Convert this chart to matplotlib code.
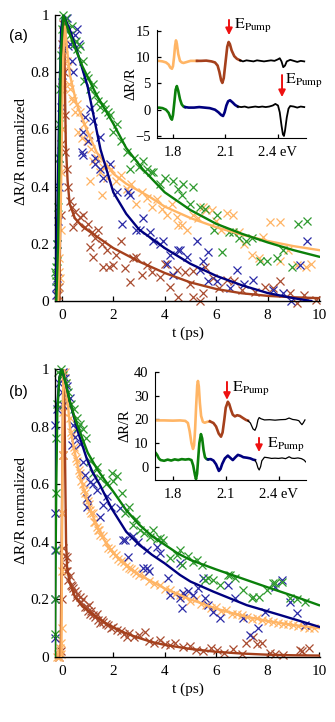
import numpy as np
import matplotlib
matplotlib.use('Agg')
import matplotlib.pyplot as plt

plt.rcParams['font.family'] = ['Liberation Serif', 'DejaVu Serif']
plt.rcParams['mathtext.fontset'] = 'stix'

GREEN, GREEN_PT = '#0b800b', '#2f9a2f'
NAVY, NAVY_PT = '#00007f', '#2a2aa6'
ORANGE, ORANGE_PT = '#ffb565', '#ffb464'
BROWN, BROWN_PT = '#a5401c', '#a94c30'

# ---------------- panel (a) : fits (t in ps, normalized dR/R) ----------------
a_green_fit = [(-0.22, 0.0), (-0.15, 0.2), (-0.1, 0.5), (-0.05, 0.85), (0.05, 1.0), (0.4, 0.91),
               (0.8, 0.82), (1.35, 0.72), (2.0, 0.62), (2.5, 0.535), (3.15, 0.46), (4.0, 0.38),
               (5.0, 0.318), (6.0, 0.27), (7.0, 0.235), (8.0, 0.205), (9.0, 0.178), (10.0, 0.155)]
a_navy_fit = [(-0.25, 0.0), (-0.18, 0.3), (-0.1, 0.7), (-0.03, 0.95), (0.05, 1.0), (0.3, 0.95),
              (0.6, 0.87), (1.0, 0.75), (1.5, 0.53), (2.0, 0.38), (2.5, 0.305), (3.0, 0.25),
              (4.0, 0.185), (5.0, 0.13), (6.0, 0.088), (7.0, 0.055), (8.0, 0.028), (9.0, 0.01), (9.7, 0.0)]
a_orange_fit = [(-0.15, 0.0), (-0.05, 0.3), (0.0, 0.6), (0.05, 0.85), (0.12, 0.96), (0.2, 0.88),
                (0.31, 0.79), (0.57, 0.69), (0.96, 0.6), (1.35, 0.52), (2.0, 0.445), (2.5, 0.41),
                (3.4, 0.365), (4.0, 0.33), (5.0, 0.29), (6.0, 0.258), (7.0, 0.232), (8.0, 0.21),
                (9.0, 0.192), (10.0, 0.178)]
a_brown_fit = [(-0.1, 0.0), (-0.05, 0.4), (0.0, 0.85), (0.05, 0.98), (0.1, 0.85), (0.15, 0.55),
               (0.22, 0.42), (0.3, 0.34), (0.5, 0.29), (0.8, 0.26), (1.2, 0.235), (2.0, 0.185),
               (3.0, 0.138), (4.0, 0.098), (5.0, 0.065), (6.0, 0.042), (7.0, 0.027), (8.0, 0.018),
               (9.0, 0.013), (10.0, 0.01)]

# ---------------- panel (a) : measured points ----------------
a_green_pts = [(-0.27, 0.10), (-0.25, 0.07), (-0.24, 0.12), (-0.22, 0.09), (-0.2, 0.14), (-0.18, 0.2),
               (-0.15, 0.33), (-0.12, 0.5), (-0.1, 0.62), (-0.08, 0.74), (-0.05, 0.86), (0.0, 0.95),
               (0.05, 1.0), (0.1, 0.97), (0.15, 0.99), (0.2, 0.95), (0.3, 0.93), (0.38, 0.96),
               (0.45, 0.9), (0.55, 0.91), (0.6, 0.88), (0.7, 0.89), (0.8, 0.84), (0.85, 0.77),
               (0.95, 0.79), (1.02, 0.78), (1.1, 0.74), (1.2, 0.76), (1.3, 0.72), (1.4, 0.7),
               (1.48, 0.68), (1.6, 0.69), (1.67, 0.67), (1.8, 0.66), (1.87, 0.65), (2.0, 0.59),
               (2.13, 0.62), (2.3, 0.56), (2.52, 0.52), (2.65, 0.46), (2.8, 0.5), (3.0, 0.47),
               (3.16, 0.49), (3.3, 0.46), (3.45, 0.45), (3.55, 0.45), (3.81, 0.41), (4.0, 0.43),
               (4.33, 0.42), (4.5, 0.39), (4.66, 0.37), (4.7, 0.41), (4.98, 0.34), (5.1, 0.40),
               (5.37, 0.33), (5.55, 0.32), (5.9, 0.25), (6.02, 0.30), (6.21, 0.17), (6.5, 0.24),
               (6.67, 0.24), (6.9, 0.22), (7.18, 0.21), (7.4, 0.22), (7.7, 0.14), (7.96, 0.14),
               (8.35, 0.15), (8.6, 0.18), (8.94, 0.12), (9.2, 0.27), (9.52, 0.28)]
a_navy_pts = [(-0.25, 0.02), (-0.22, 0.05), (-0.2, 0.08), (-0.18, 0.2), (-0.15, 0.28), (-0.12, 0.4),
              (-0.1, 0.5), (-0.05, 0.68), (0.0, 0.79), (0.05, 0.88), (0.1, 0.95), (0.18, 0.99),
              (0.25, 0.89), (0.3, 0.9), (0.38, 0.84), (0.44, 0.8), (0.5, 0.93), (0.57, 0.95),
              (0.65, 0.9), (0.77, 0.52), (0.83, 0.59), (0.83, 0.51), (0.9, 0.645), (1.0, 0.56),
              (1.09, 0.67), (1.22, 0.63), (1.28, 0.48), (1.3, 0.5), (1.48, 0.575), (1.48, 0.46),
              (1.6, 0.43), (1.87, 0.48), (2.13, 0.38), (2.32, 0.27), (2.58, 0.38), (2.65, 0.37),
              (2.9, 0.25), (3.04, 0.25), (3.16, 0.29), (3.42, 0.24), (3.55, 0.21), (3.8, 0.2),
              (3.94, 0.21), (4.07, 0.13), (4.2, 0.16), (4.33, 0.09), (4.53, 0.18), (4.6, 0.18),
              (4.87, 0.155), (5.24, 0.21), (5.37, 0.11), (5.5, 0.14), (5.7, 0.17), (5.7, 0.07),
              (6.05, 0.07), (6.54, 0.045), (6.8, 0.11), (7.1, 0.06), (7.44, 0.075), (8.2, 0.04),
              (8.61, 0.027), (8.9, 0.0), (9.26, 0.125), (9.52, 0.21)]
a_orange_pts = [(-0.2, 0.02), (-0.15, 0.05), (-0.12, 0.1), (-0.1, 0.15), (-0.08, 0.08), (-0.05, 0.25),
                (-0.02, 0.45), (0.0, 0.6), (0.03, 0.75), (0.08, 0.86), (0.12, 0.9), (0.18, 0.84),
                (0.25, 0.82), (0.28, 0.76), (0.31, 0.74), (0.38, 0.71), (0.44, 0.7), (0.5, 0.66),
                (0.57, 0.69), (0.64, 0.59), (0.7, 0.66), (0.77, 0.57), (0.85, 0.62), (0.96, 0.56),
                (1.05, 0.58), (1.09, 0.42), (1.15, 0.53), (1.22, 0.49), (1.35, 0.5), (1.48, 0.45),
                (1.54, 0.37), (1.6, 0.47), (1.75, 0.43), (1.9, 0.46), (2.1, 0.42), (2.3, 0.44),
                (2.52, 0.39), (2.7, 0.41), (2.9, 0.34), (3.1, 0.38), (3.29, 0.36), (3.5, 0.33),
                (3.68, 0.355), (3.9, 0.32), (4.1, 0.3), (4.3, 0.34), (4.46, 0.295), (4.53, 0.265),
                (4.66, 0.266), (4.85, 0.25), (5.1, 0.3), (5.3, 0.29), (5.5, 0.33), (5.6, 0.318),
                (5.82, 0.318), (6.0, 0.28), (6.2, 0.25), (6.41, 0.307), (6.67, 0.3), (6.9, 0.24),
                (7.1, 0.2), (7.38, 0.16), (7.65, 0.15), (7.83, 0.225), (8.1, 0.277), (8.48, 0.277),
                (8.5, 0.14), (8.8, 0.18), (9.13, 0.126), (9.5, 0.12), (9.7, 0.13)]
a_brown_pts = [(-0.15, 0.02), (-0.1, 0.05), (-0.05, 0.3), (-0.02, 0.55), (0.0, 0.75), (0.02, 0.9),
               (0.05, 0.97), (0.08, 0.8), (0.1, 0.65), (0.12, 0.52), (0.18, 0.46), (0.22, 0.4),
               (0.31, 0.35), (0.38, 0.33), (0.44, 0.26), (0.5, 0.31), (0.6, 0.28), (0.7, 0.295),
               (0.8, 0.3), (0.9, 0.26), (1.0, 0.27), (1.09, 0.19), (1.16, 0.24), (1.22, 0.155),
               (1.3, 0.22), (1.4, 0.25), (1.54, 0.2), (1.61, 0.12), (1.74, 0.18), (1.85, 0.12),
               (2.0, 0.125), (2.1, 0.16), (2.3, 0.21), (2.45, 0.114), (2.65, 0.067), (2.75, 0.15),
               (2.9, 0.155), (3.1, 0.09), (3.29, 0.126), (3.5, 0.1), (3.81, 0.085), (4.0, 0.13),
               (4.2, 0.05), (4.46, 0.108), (4.53, 0.015), (4.79, 0.102), (5.0, 0.06), (5.1, 0.105),
               (5.11, 0.015), (5.37, 0.0), (5.5, 0.027), (5.56, 0.12), (5.89, 0.079), (6.1, 0.045),
               (6.41, 0.073), (6.7, 0.07), (7.0, 0.04), (7.5, 0.03), (7.9, 0.05), (8.22, 0.044),
               (8.48, 0.07), (8.87, 0.027), (9.13, -0.008), (9.4, 0.02), (9.9, 0.003)]

# ---------------- panel (b) : fits ----------------
b_green_fit = [(-0.27, 0.0), (-0.25, 0.3), (-0.22, 0.6), (-0.18, 0.85), (-0.1, 0.97), (0.0, 1.0),
               (0.15, 0.95), (0.3, 0.89), (0.5, 0.83), (0.83, 0.75), (1.0, 0.71), (1.35, 0.655),
               (1.7, 0.61), (2.0, 0.574), (2.5, 0.51), (3.0, 0.46), (3.5, 0.42), (4.0, 0.39),
               (4.5, 0.36), (5.0, 0.337), (6.0, 0.304), (7.0, 0.273), (8.0, 0.242), (9.0, 0.212),
               (10.0, 0.18)]
b_navy_fit = [(-0.29, 0.0), (-0.27, 0.3), (-0.25, 0.6), (-0.2, 0.85), (-0.1, 0.97), (0.0, 1.0),
              (0.15, 0.95), (0.31, 0.886), (0.63, 0.78), (0.96, 0.69), (1.2, 0.64), (1.48, 0.597),
              (1.93, 0.516), (2.5, 0.435), (3.0, 0.39), (3.5, 0.355), (4.0, 0.325), (4.59, 0.285),
              (5.0, 0.262), (5.89, 0.227), (7.19, 0.18), (8.48, 0.146), (10.0, 0.105)]
b_orange_fit = [(-0.02, 0.0), (0.0, 0.3), (0.02, 0.7), (0.05, 0.95), (0.08, 1.0), (0.15, 0.93),
                (0.25, 0.86), (0.31, 0.8), (0.5, 0.71), (0.7, 0.63), (0.96, 0.55), (1.2, 0.49),
                (1.5, 0.43), (1.75, 0.39), (2.0, 0.36), (2.5, 0.32), (3.0, 0.285), (3.5, 0.262),
                (4.0, 0.238), (4.6, 0.215), (5.0, 0.2), (6.0, 0.168), (7.0, 0.143), (8.0, 0.125),
                (9.0, 0.111), (10.0, 0.1)]
b_brown_fit = [(-0.05, 0.0), (0.0, 0.5), (0.05, 0.95), (0.08, 1.0), (0.12, 0.7), (0.16, 0.4),
               (0.2, 0.31), (0.3, 0.26), (0.5, 0.21), (0.8, 0.175), (1.1, 0.155), (1.6, 0.123),
               (2.0, 0.103), (2.5, 0.082), (3.0, 0.066), (3.5, 0.052), (4.0, 0.042), (5.0, 0.028),
               (6.0, 0.018), (7.0, 0.012), (8.0, 0.008), (9.0, 0.006), (10.0, 0.005)]

# ---------------- panel (b) : measured points ----------------
b_green_pts = [(-0.27, 0.08), (-0.26, 0.2), (-0.25, 0.37), (-0.25, 0.57), (-0.24, 0.76), (-0.2, 0.88),
               (-0.14, 0.99), (-0.05, 1.0), (0.05, 0.98), (0.15, 0.95), (0.25, 0.92), (0.35, 0.88),
               (0.45, 0.86), (0.57, 0.83), (0.63, 0.8), (0.7, 0.81), (0.83, 0.79), (0.95, 0.76),
               (1.09, 0.68), (1.22, 0.64), (1.35, 0.66), (1.5, 0.62), (1.7, 0.6), (1.93, 0.64),
               (2.0, 0.61), (2.13, 0.63), (2.32, 0.57), (2.45, 0.5), (2.6, 0.52), (2.77, 0.46),
               (2.9, 0.48), (3.04, 0.44), (3.2, 0.43), (3.42, 0.415), (3.55, 0.44), (3.68, 0.41),
               (3.81, 0.412), (3.94, 0.405), (4.2, 0.343), (4.46, 0.354), (4.6, 0.37), (4.66, 0.32),
               (4.9, 0.35), (5.11, 0.33), (5.24, 0.337), (5.44, 0.32), (5.56, 0.267), (5.7, 0.273),
               (5.89, 0.267), (6.15, 0.25), (6.47, 0.285), (6.54, 0.285), (6.73, 0.273), (7.05, 0.233),
               (7.38, 0.204), (7.44, 0.21), (7.65, 0.21), (7.96, 0.233), (8.22, 0.256), (8.29, 0.256),
               (8.55, 0.261), (8.87, 0.204), (9.13, 0.2), (9.46, 0.192)]
b_navy_pts = [(-0.27, 0.065), (-0.27, 0.2), (-0.27, 0.37), (-0.27, 0.5), (-0.27, 0.805), (-0.2, 0.86),
              (-0.1, 0.95), (0.0, 0.92), (0.05, 0.99), (0.05, 0.875), (0.12, 0.97), (0.2, 0.94),
              (0.3, 0.9), (0.38, 0.736), (0.44, 0.805), (0.5, 0.765), (0.6, 0.79), (0.7, 0.74),
              (0.83, 0.678), (0.9, 0.632), (0.96, 0.551), (0.96, 0.522), (1.09, 0.609), (1.2, 0.6),
              (1.35, 0.58), (1.48, 0.487), (1.61, 0.528), (1.75, 0.56), (1.9, 0.52), (2.26, 0.516),
              (2.39, 0.406), (2.45, 0.406), (2.58, 0.348), (2.75, 0.42), (2.97, 0.4), (3.16, 0.308),
              (3.3, 0.371), (3.3, 0.308), (3.4, 0.3), (3.68, 0.383), (3.8, 0.36), (4.14, 0.273),
              (4.2, 0.215), (4.59, 0.325), (4.59, 0.204), (4.66, 0.169), (4.72, 0.221), (4.9, 0.23),
              (5.11, 0.215), (5.3, 0.24), (5.5, 0.273), (5.56, 0.204), (5.69, 0.18), (5.89, 0.157),
              (6.15, 0.134), (6.47, 0.25), (6.73, 0.204), (7.05, 0.134), (7.32, 0.076), (7.64, 0.1),
              (7.9, 0.157), (8.29, 0.244), (8.55, 0.267), (8.87, 0.192), (9.13, 0.152), (9.46, 0.111)]
b_orange_pts = [(-0.2, 0.0), (-0.15, 0.01), (-0.12, 0.02), (-0.1, 0.0), (-0.08, 0.03), (-0.05, 0.01),
                (-0.03, 0.05), (0.0, 0.1), (0.01, 0.3), (0.02, 0.5), (0.03, 0.7), (0.04, 0.85),
                (0.05, 0.97), (0.1, 0.99), (0.12, 0.93), (0.15, 0.95), (0.2, 0.89), (0.25, 0.87),
                (0.3, 0.83), (0.35, 0.78), (0.4, 0.77), (0.45, 0.73), (0.5, 0.72), (0.55, 0.69),
                (0.6, 0.68), (0.65, 0.65), (0.7, 0.64), (0.75, 0.61), (0.8, 0.6), (0.85, 0.58),
                (0.9, 0.57), (0.95, 0.55), (1.0, 0.54), (1.05, 0.53), (1.1, 0.51), (1.15, 0.5),
                (1.2, 0.5), (1.25, 0.47), (1.3, 0.47), (1.35, 0.45), (1.4, 0.44), (1.45, 0.44),
                (1.5, 0.425), (1.6, 0.42), (1.7, 0.4), (1.8, 0.38), (1.9, 0.375), (2.0, 0.36),
                (2.1, 0.355), (2.2, 0.34), (2.3, 0.335), (2.4, 0.33), (2.5, 0.315), (2.6, 0.31),
                (2.7, 0.305), (2.8, 0.3), (2.9, 0.29), (3.0, 0.285), (3.2, 0.28), (3.4, 0.265),
                (3.6, 0.255), (3.8, 0.25), (4.0, 0.235), (4.2, 0.232), (4.4, 0.22), (4.6, 0.215),
                (4.8, 0.21), (5.0, 0.195), (5.2, 0.2), (5.4, 0.185), (5.6, 0.18), (5.8, 0.17),
                (6.0, 0.172), (6.2, 0.16), (6.4, 0.162), (6.6, 0.15), (6.8, 0.148), (7.0, 0.145),
                (7.2, 0.14), (7.4, 0.132), (7.6, 0.136), (7.8, 0.128), (8.0, 0.125), (8.2, 0.122),
                (8.4, 0.118), (8.6, 0.115), (8.8, 0.113), (9.0, 0.11), (9.2, 0.107), (9.4, 0.104),
                (9.6, 0.1), (9.8, 0.102)]
b_brown_pts = [(-0.1, 0.0), (-0.05, 0.02), (0.0, 0.2), (0.02, 0.5), (0.04, 0.7), (0.05, 0.377),
               (0.1, 0.32), (0.12, 0.35), (0.15, 0.3), (0.18, 0.348), (0.2, 0.3), (0.25, 0.267),
               (0.3, 0.28), (0.35, 0.25), (0.38, 0.246), (0.42, 0.24), (0.5, 0.23), (0.55, 0.21),
               (0.6, 0.22), (0.7, 0.21), (0.75, 0.19), (0.8, 0.2), (0.9, 0.175), (0.96, 0.175),
               (1.0, 0.16), (1.05, 0.18), (1.1, 0.15), (1.15, 0.16), (1.22, 0.146), (1.3, 0.14),
               (1.35, 0.15), (1.4, 0.13), (1.48, 0.117), (1.55, 0.13), (1.6, 0.12), (1.7, 0.115),
               (1.8, 0.11), (1.9, 0.1), (2.0, 0.105), (2.13, 0.094), (2.3, 0.09), (2.4, 0.08),
               (2.52, 0.07), (2.6, 0.085), (2.8, 0.07), (3.0, 0.075), (3.23, 0.088), (3.4, 0.055),
               (3.6, 0.05), (3.81, 0.06), (4.0, 0.045), (4.2, 0.04), (4.4, 0.05), (4.7, 0.035),
               (4.98, 0.038), (5.2, 0.025), (5.5, 0.02), (5.8, 0.03), (6.02, 0.024), (6.3, 0.015),
               (6.67, 0.027), (7.0, 0.01), (7.18, 0.047), (7.44, 0.07), (7.6, 0.045), (7.77, 0.047),
               (8.1, 0.013), (8.3, 0.01), (8.6, 0.008), (9.26, 0.024), (9.33, 0.02), (9.6, 0.03)]

# ---------------- inset spectra (photon energy in eV, dR/R) ----------------
ia_top_orange = [(1.705, 9.3), (1.72, 9.3), (1.74, 9.2), (1.76, 9.0), (1.775, 8.6), (1.785, 8.0),
                 (1.794, 7.8), (1.80, 8.3), (1.806, 10.0), (1.812, 12.2), (1.817, 13.2), (1.822, 12.6),
                 (1.83, 10.6), (1.84, 9.3), (1.85, 9.0), (1.86, 8.9), (1.88, 9.1), (1.90, 9.3),
                 (1.92, 9.3), (1.937, 9.3)]
ia_top_brown = [(1.937, 9.3), (1.96, 9.3), (1.99, 9.35), (2.02, 9.2), (2.04, 9.0), (2.055, 8.4),
                (2.065, 7.2), (2.075, 5.6), (2.082, 5.1), (2.09, 6.0), (2.10, 9.0), (2.11, 12.0),
                (2.118, 12.9), (2.125, 12.5), (2.135, 11.3), (2.15, 10.2), (2.165, 9.7), (2.183, 9.4)]
ia_top_black = [(2.183, 9.4), (2.2, 9.2), (2.22, 9.4), (2.24, 9.3), (2.26, 9.2), (2.28, 9.4),
                (2.30, 9.3), (2.32, 9.2), (2.34, 9.3), (2.36, 9.4), (2.38, 9.3), (2.40, 9.6),
                (2.41, 9.8), (2.42, 9.2), (2.43, 8.1), (2.44, 8.4), (2.45, 9.2), (2.47, 9.5),
                (2.49, 9.3), (2.51, 9.1), (2.53, 9.3), (2.55, 9.2)]
ia_bot_green = [(1.705, 0.3), (1.72, 0.4), (1.74, 0.3), (1.76, 0.0), (1.775, -0.6), (1.787, -1.6),
                (1.794, -1.9), (1.80, -1.0), (1.808, 1.5), (1.815, 3.8), (1.822, 4.5), (1.83, 3.6),
                (1.84, 2.0), (1.85, 1.0), (1.86, 0.6), (1.869, 0.5)]
ia_bot_navy = [(1.869, 0.5), (1.89, 0.4), (1.92, 0.4), (1.95, 0.5), (1.98, 0.4), (2.01, 0.3),
               (2.04, 0.0), (2.06, -0.5), (2.075, -1.0), (2.086, -1.2), (2.095, -0.5), (2.105, 0.8),
               (2.115, 1.6), (2.126, 1.8), (2.14, 1.4), (2.155, 0.9), (2.17, 0.6)]
ia_bot_black = [(2.17, 0.6), (2.19, 0.5), (2.21, 0.6), (2.23, 0.4), (2.25, 0.5), (2.27, 0.6),
                (2.29, 0.5), (2.31, 0.6), (2.33, 0.5), (2.35, 0.6), (2.37, 0.8), (2.385, 1.1),
                (2.40, 0.8), (2.41, -0.5), (2.42, -3.0), (2.428, -4.7), (2.434, -5.0), (2.44, -4.0),
                (2.45, -1.5), (2.46, 0.2), (2.47, 0.7), (2.49, 0.6), (2.51, 0.4), (2.53, 0.6), (2.55, 0.5)]

ib_top_orange = [(1.70, 19.6), (1.75, 19.6), (1.80, 19.5), (1.84, 19.6), (1.87, 19.4), (1.885, 18.5),
                 (1.895, 15.0), (1.905, 10.0), (1.914, 7.5), (1.92, 9.0), (1.926, 16.0), (1.932, 26.0),
                 (1.938, 34.5), (1.942, 36.3), (1.947, 34.0), (1.953, 27.0), (1.96, 21.5), (1.97, 19.0),
                 (1.98, 18.6), (1.995, 19.0), (2.01, 19.2)]
ib_top_brown = [(2.01, 19.2), (2.03, 18.5), (2.045, 17.0), (2.06, 14.0), (2.073, 12.7), (2.082, 14.5),
                (2.092, 20.0), (2.10, 25.0), (2.112, 27.5), (2.12, 26.5), (2.13, 24.0), (2.14, 22.0),
                (2.152, 21.3), (2.165, 21.8), (2.18, 21.5), (2.2, 20.5), (2.215, 19.8), (2.226, 19.5)]
ib_top_black = [(2.226, 19.5), (2.24, 18.5), (2.255, 16.0), (2.266, 15.4), (2.275, 17.0), (2.283, 19.8),
                (2.29, 20.8), (2.30, 20.3), (2.32, 19.8), (2.35, 19.9), (2.38, 19.7), (2.41, 19.9),
                (2.44, 20.0), (2.46, 20.6), (2.48, 20.0), (2.50, 19.8), (2.515, 19.5), (2.525, 18.5),
                (2.533, 17.8), (2.54, 18.5), (2.55, 19.8)]
ib_bot_green = [(1.703, 5.7), (1.71, 5.0), (1.72, 3.5), (1.73, 2.8), (1.75, 2.5), (1.77, 3.0),
                (1.79, 2.6), (1.81, 3.1), (1.83, 2.8), (1.85, 3.2), (1.87, 3.0), (1.89, 3.2),
                (1.905, 2.8), (1.915, 0.5), (1.925, -3.5), (1.931, -5.3), (1.937, -3.0), (1.943, 3.0),
                (1.95, 10.0), (1.959, 13.8), (1.966, 12.0), (1.974, 7.0), (1.982, 4.0), (1.99, 3.3),
                (1.999, 3.1)]
ib_bot_navy = [(1.999, 3.1), (2.015, 3.2), (2.03, 2.6), (2.045, 1.0), (2.055, -0.8), (2.061, -1.8),
               (2.07, -1.0), (2.08, 1.2), (2.095, 3.5), (2.112, 4.7), (2.125, 3.8), (2.14, 2.8),
               (2.155, 4.0), (2.169, 5.0), (2.185, 4.6), (2.2, 4.0), (2.22, 3.8), (2.24, 3.5),
               (2.255, 3.0), (2.266, 2.8)]
ib_bot_black = [(2.266, 2.8), (2.275, 1.5), (2.283, -0.5), (2.29, -1.4), (2.298, 0.0), (2.305, 2.5),
                (2.32, 4.0), (2.34, 3.8), (2.36, 3.5), (2.38, 3.6), (2.40, 3.5), (2.42, 3.7),
                (2.44, 3.4), (2.46, 4.2), (2.475, 3.6), (2.49, 3.5), (2.51, 3.7), (2.53, 3.4),
                (2.545, 2.8), (2.555, 2.0)]

main_yticks = [0, 0.2, 0.4, 0.6, 0.8, 1]
main_yticklabels = ['0', '0.2', '0.4', '0.6', '0.8', '1']
main_xticks = [0, 2, 4, 6, 8, 10]
inset_xticks = [1.8, 2.1, 2.4]
inset_xticklabels = ['1.8', '2.1', '2.4 eV']
ia_yticks = [-5, 0, 5, 10, 15]
ib_yticks = [0, 10, 20, 30, 40]

W, H = 335, 722


def box(l, t, r, b):
    # pixel box -> figure fraction
    return [l / W, 1 - b / H, (r - l) / W, (b - t) / H]


def xy(pairs):
    arr = np.array(pairs)
    return arr[:, 0], arr[:, 1]


def main_panel(ax, fits, pts, ylab_y):
    for p, c in pts:
        t, y = xy(p)
        ax.plot(t, y, 'x', color=c, ms=6, mew=0.9, clip_on=False, zorder=2)
    for f, c in fits:
        t, y = xy(f)
        ax.plot(t, y, '-', color=c, lw=1.7, zorder=3)
    ax.set_xlim(-0.27, 10.04)
    ax.set_ylim(0, 1)
    ax.set_xticks(main_xticks)
    ax.set_yticks(main_yticks)
    ax.set_yticklabels(main_yticklabels)
    ax.spines['top'].set_visible(False)
    ax.spines['right'].set_visible(False)
    for s in ['left', 'bottom']:
        ax.spines[s].set_linewidth(1.0)
    ax.tick_params(direction='in', length=3.5, width=0.9, labelsize=11)
    ax.tick_params(axis='x', pad=6)
    ax.tick_params(axis='y', pad=4)
    ax.set_xlabel('t (ps)', fontsize=11)
    ax.set_ylabel('\u0394R/R normalized', fontsize=11)
    ax.xaxis.set_label_coords(0.5, -0.09)
    ax.yaxis.set_label_coords(-0.1, ylab_y)


def inset(ax, segs, ylim, yticks, arrows):
    for s, c, lw in segs:
        e, v = xy(s)
        ax.plot(e, v, '-', color=c, lw=lw)
    ax.set_ylim(*ylim)
    ax.set_xticks(inset_xticks)
    ax.set_xticklabels(inset_xticklabels)
    ax.set_yticks(yticks)
    ax.spines['top'].set_visible(False)
    ax.spines['right'].set_visible(False)
    ax.tick_params(direction='in', length=3, width=0.9, labelsize=10.5)
    ax.tick_params(axis='x', pad=5.5)
    ax.tick_params(axis='y', pad=4.5)
    ax.set_ylabel('\u0394R/R', fontsize=10.5)
    for x, ytop, ytip, tx, ty in arrows:
        ax.annotate('', xy=(x, ytip), xytext=(x, ytop), annotation_clip=False,
                    arrowprops=dict(arrowstyle='-|>', color='#ee1111', lw=1.4, mutation_scale=10,
                                    shrinkA=0, shrinkB=0))
        ax.text(tx, ty, r'$\mathrm{E}_{\mathrm{Pump}}$', fontsize=11.5, ha='left', va='center',
                clip_on=False)


fig = plt.figure(figsize=(W / 100, H / 100), dpi=100)

ax_a = fig.add_axes(box(55, 15, 320, 301))
main_panel(ax_a,
           [(a_brown_fit, BROWN), (a_orange_fit, ORANGE), (a_navy_fit, NAVY), (a_green_fit, GREEN)],
           [(a_brown_pts, BROWN_PT), (a_orange_pts, ORANGE_PT), (a_navy_pts, NAVY_PT), (a_green_pts, GREEN_PT)],
           0.524)

ax_b = fig.add_axes(box(55, 369, 320, 657))
main_panel(ax_b,
           [(b_brown_fit, BROWN), (b_orange_fit, ORANGE), (b_navy_fit, NAVY), (b_green_fit, GREEN)],
           [(b_brown_pts, BROWN_PT), (b_orange_pts, ORANGE_PT), (b_navy_pts, NAVY_PT), (b_green_pts, GREEN_PT)],
           0.51)

in_a = fig.add_axes(box(157, 30, 306, 138))
in_a.set_xlim(1.7086, 2.56)
inset(in_a,
      [(ia_top_orange, ORANGE, 1.9), (ia_top_brown, BROWN, 1.9), (ia_top_black, 'black', 1.3),
       (ia_bot_green, GREEN, 1.9), (ia_bot_navy, NAVY, 1.9), (ia_bot_black, 'black', 1.3)],
      (-5.39, 15.18), ia_yticks,
      [(2.12, 17.1, 14.2, 2.15, 16.0), (2.423, 6.6, 2.4, 2.44, 5.5)])
in_a.yaxis.set_label_coords(-0.13, 0.5)

in_b = fig.add_axes(box(155, 372, 306, 480))
in_b.set_xlim(1.698, 2.556)
inset(in_b,
      [(ib_top_orange, ORANGE, 1.9), (ib_top_brown, BROWN, 1.9), (ib_top_black, 'black', 0.9),
       (ib_bot_green, GREEN, 1.9), (ib_bot_navy, NAVY, 1.9), (ib_bot_black, 'black', 0.9)],
      (-5.64, 40.1), ib_yticks,
      [(2.107, 35.9, 28.3, 2.137, 33.1), (2.289, 12.2, 6.2, 2.335, 9.2)])
in_b.yaxis.set_label_coords(-0.155, 0.5)

fig.text(18 / W, 1 - 36 / H, '(a)', family=['Liberation Sans', 'DejaVu Sans'], fontsize=11,
         ha='center', va='center')
fig.text(18 / W, 1 - 392 / H, '(b)', family=['Liberation Sans', 'DejaVu Sans'], fontsize=11,
         ha='center', va='center')

fig.savefig('out.png', dpi=100)
